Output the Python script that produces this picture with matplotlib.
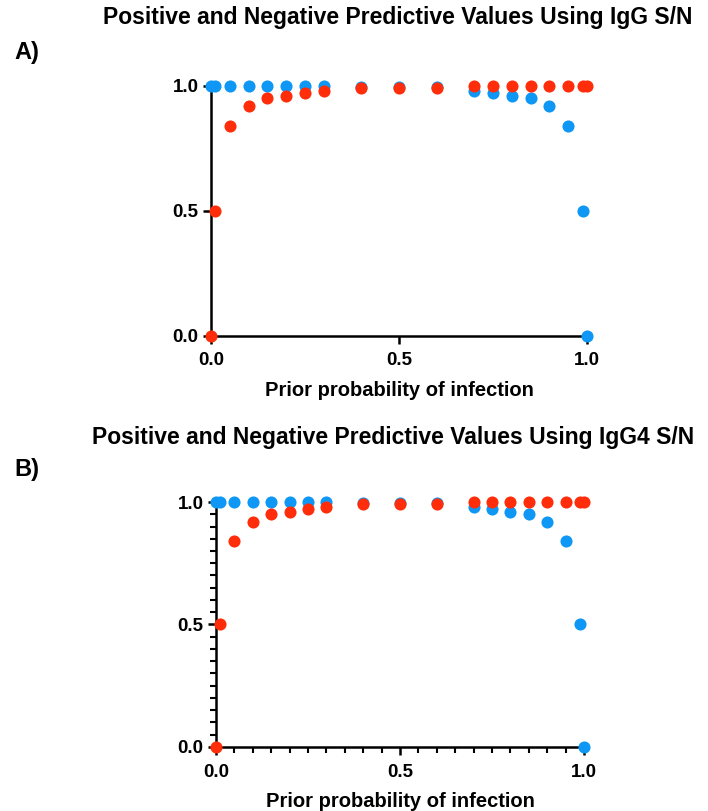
import matplotlib
matplotlib.use("Agg")
import matplotlib.pyplot as plt
from matplotlib.ticker import MultipleLocator

plt.rcParams["font.family"] = ["Liberation Sans", "DejaVu Sans"]

# prior probability of infection
prior = [0.0, 0.01, 0.05, 0.1, 0.15, 0.2, 0.25, 0.3, 0.4, 0.5, 0.6,
         0.7, 0.75, 0.8, 0.85, 0.9, 0.95, 0.99, 1.0]

# IgG S/N
igg_npv = [1.0, 1.0, 1.0, 1.0, 1.0, 1.0, 1.0, 1.0, 0.995, 0.995, 0.995,
           0.98, 0.97, 0.96, 0.95, 0.92, 0.84, 0.5, 0.0]
igg_ppv = [0.0, 0.5, 0.84, 0.92, 0.95, 0.96, 0.97, 0.98, 0.99, 0.99, 0.99,
           1.0, 1.0, 1.0, 1.0, 1.0, 1.0, 1.0, 1.0]

# IgG4 S/N
igg4_npv = [1.0, 1.0, 1.0, 1.0, 1.0, 1.0, 1.0, 1.0, 0.995, 0.995, 0.995,
            0.98, 0.97, 0.96, 0.95, 0.92, 0.84, 0.5, 0.0]
igg4_ppv = [0.0, 0.5, 0.84, 0.92, 0.95, 0.96, 0.97, 0.98, 0.99, 0.99, 0.99,
            1.0, 1.0, 1.0, 1.0, 1.0, 1.0, 1.0, 1.0]

BLUE = "#0E97F4"
RED = "#FF2D0A"


def draw_panel(ax, npv, ppv, minor):
    ax.scatter(prior, npv, s=76, color=BLUE, linewidths=0, clip_on=False, zorder=3)
    ax.scatter(prior, ppv, s=76, color=RED, linewidths=0, clip_on=False, zorder=4)
    ax.set_xlim(0, 1)
    ax.set_ylim(0, 1)
    ax.set_xticks([0, 0.5, 1.0])
    ax.set_yticks([0, 0.5, 1.0])
    ax.set_xticklabels(["0.0", "0.5", "1.0"])
    ax.set_yticklabels(["0.0", "0.5", "1.0"])
    for side in ("top", "right"):
        ax.spines[side].set_visible(False)
    for side in ("left", "bottom"):
        ax.spines[side].set_linewidth(1.8)
    ax.tick_params(which="major", length=6, width=1.8, labelsize=13.5)
    ax.tick_params(axis="x", pad=6)
    ax.tick_params(axis="y", pad=3)
    for lab in ax.get_xticklabels() + ax.get_yticklabels():
        lab.set_fontweight("bold")
    if minor:
        ax.xaxis.set_minor_locator(MultipleLocator(0.05))
        ax.yaxis.set_minor_locator(MultipleLocator(0.05))
        ax.tick_params(which="minor", length=4, width=1.5)
    ax.set_xlabel("Prior probability of infection", fontsize=14.5, fontweight="bold", labelpad=8)


fig = plt.figure(figsize=(7.08, 8.11), dpi=100)

ax_a = fig.add_axes([0.298, 0.586, 0.531, 0.308])
draw_panel(ax_a, igg_npv, igg_ppv, minor=False)

ax_b = fig.add_axes([0.305, 0.079, 0.520, 0.302])
draw_panel(ax_b, igg4_npv, igg4_ppv, minor=True)

fig.text(0.562, 0.978, "Positive and Negative Predictive Values Using IgG S/N",
         ha="center", va="center", fontsize=16.5, fontweight="bold")
fig.text(0.555, 0.461, "Positive and Negative Predictive Values Using IgG4 S/N",
         ha="center", va="center", fontsize=16.5, fontweight="bold")
fig.text(0.020, 0.935, "A)", ha="left", va="center", fontsize=17, fontweight="bold")
fig.text(0.020, 0.421, "B)", ha="left", va="center", fontsize=17, fontweight="bold")

fig.savefig("out.png", dpi=100)
